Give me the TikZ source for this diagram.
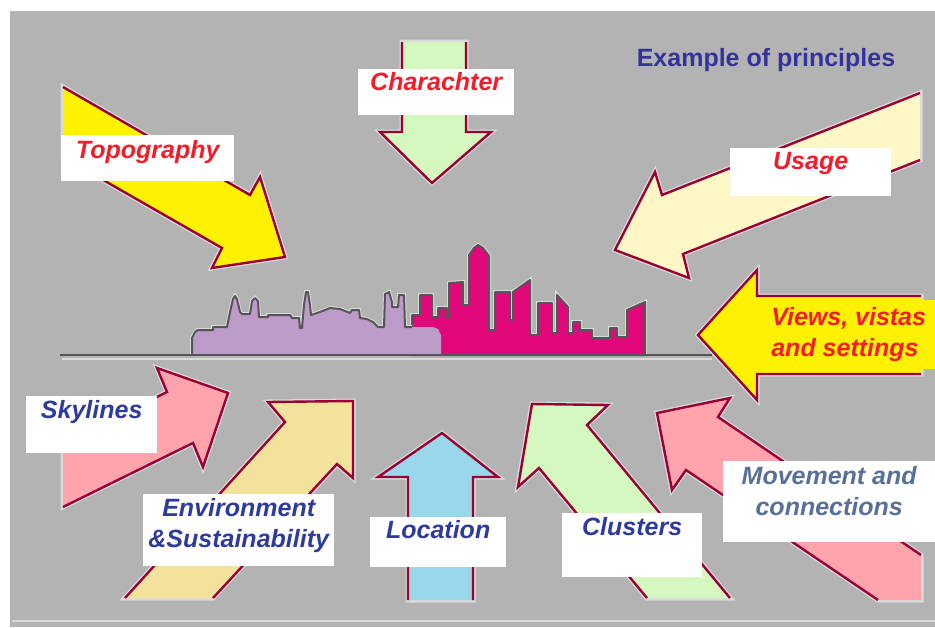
\documentclass[tikz,border=0pt]{standalone}
\usepackage{fontspec}
\setmainfont{Liberation Sans}
\usetikzlibrary{positioning}

\definecolor{bg}{HTML}{B3B3B3}
\definecolor{halocol}{HTML}{DADADA}
\definecolor{rimred}{HTML}{990033}
\definecolor{roofgray}{HTML}{555555}
\definecolor{sunyellow}{HTML}{FFF200}
\definecolor{mint}{HTML}{D3F7BE}
\definecolor{cream}{HTML}{FFF8C6}
\definecolor{rose}{HTML}{FFA3AD}
\definecolor{sand}{HTML}{F3E29C}
\definecolor{sky}{HTML}{9AD7EA}
\definecolor{lilac}{HTML}{BC9BC8}
\definecolor{cerise}{HTML}{E1077B}
\definecolor{tagred}{HTML}{F21D2A}
\definecolor{tagblue}{HTML}{2E3A9C}
\definecolor{tagslate}{HTML}{587097}
\definecolor{titleblue}{HTML}{333399}

\tikzset{
  rim/.style={draw=rimred, line width=2.4pt, line join=miter},
  glow/.style={draw=halocol, fill=halocol, line width=5pt},
  roof/.style={draw=roofgray, line width=2pt, line join=round},
  tagbox/.style={fill=white, inner sep=0pt, anchor=north west},
  tagtext/.style={font=\fontsize{25}{31}\selectfont\bfseries\itshape, inner sep=0pt, align=center},
}

% block arrow: #3 is the outline without the tail, #1 extra tail corners
\newcommand\blockarrow[3][]{%
  \filldraw[glow] #3 #1 -- cycle;
  \fill[#2] #3 #1 -- cycle;
  \draw[rim] #3;}

\begin{document}
\begin{tikzpicture}[x=1pt,y=-1pt]
  \useasboundingbox (0,0) rectangle (935,627);
  \fill[white] (0,0) rectangle (935,627);
  \fill[bg] (10,11) rectangle (935,627);
  \draw[halocol, line width=1.5pt] (12,621) -- (935,621);

  % skyline
  \path[draw=halocol, line width=4pt] (412,355) -- (412,315) -- (420,315) -- (420,295) -- (432,295) -- (432,317) -- (438,317) -- (438,308) -- (447,308) -- (447,318) -- (449,318) -- (449,283) -- (463,282) -- (463,305) -- (469,305) -- (469,255) -- (474,248) -- (478,245) -- (483,248) -- (489,256) -- (489,330) -- (495,330) -- (495,292) -- (510,292) -- (510,320) -- (513,320) -- (513,292) -- (530,280) -- (530,335) -- (538,335) -- (538,303) -- (552,303) -- (552,333) -- (557,333) -- (557,295) -- (568,307) -- (568,333) -- (573,333) -- (573,322) -- (580,322) -- (580,330) -- (592,330) -- (592,338) -- (610,338) -- (610,328) -- (617,328) -- (617,337) -- (627,337) -- (627,310) -- (645,302) -- (645,355);
  \filldraw[fill=cerise, roof] (412,355) -- (412,315) -- (420,315) -- (420,295) -- (432,295) -- (432,317) -- (438,317) -- (438,308) -- (447,308) -- (447,318) -- (449,318) -- (449,283) -- (463,282) -- (463,305) -- (469,305) -- (469,255) -- (474,248) -- (478,245) -- (483,248) -- (489,256) -- (489,330) -- (495,330) -- (495,292) -- (510,292) -- (510,320) -- (513,320) -- (513,292) -- (530,280) -- (530,335) -- (538,335) -- (538,303) -- (552,303) -- (552,333) -- (557,333) -- (557,295) -- (568,307) -- (568,333) -- (573,333) -- (573,322) -- (580,322) -- (580,330) -- (592,330) -- (592,338) -- (610,338) -- (610,328) -- (617,328) -- (617,337) -- (627,337) -- (627,310) -- (645,302) -- (645,355) -- cycle;
  \draw[halocol, line width=4pt] (192,355) -- (192,338) -- (195,332) -- (198,330) -- (213,330) -- (213,327) -- (227,327) -- (230,312) -- (233,299) -- (235,296) -- (237,299) -- (240,312) -- (242,314) -- (250,314) -- (252,301) -- (255,298) -- (258,301) -- (259,317) -- (268,317) -- (268,315) -- (290,315) -- (292,318) -- (299,318) -- (300,328) -- (302,328) -- (304,305) -- (306,292) -- (308,292) -- (310,305) -- (311,315) -- (320,312) -- (330,308) -- (340,309) -- (350,313) -- (352,310) -- (359,310) -- (360,318) -- (367,319) -- (373,322) -- (378,327) -- (384,327) -- (385,294) -- (389,292) -- (392,302) -- (392,307) -- (398,307) -- (399,295) -- (404,295) -- (405,327) -- (412,327);
  \fill[lilac] (192,355) -- (192,338) -- (195,332) -- (198,330) -- (213,330) -- (213,327) -- (227,327) -- (230,312) -- (233,299) -- (235,296) -- (237,299) -- (240,312) -- (242,314) -- (250,314) -- (252,301) -- (255,298) -- (258,301) -- (259,317) -- (268,317) -- (268,315) -- (290,315) -- (292,318) -- (299,318) -- (300,328) -- (302,328) -- (304,305) -- (306,292) -- (308,292) -- (310,305) -- (311,315) -- (320,312) -- (330,308) -- (340,309) -- (350,313) -- (352,310) -- (359,310) -- (360,318) -- (367,319) -- (373,322) -- (378,327) -- (384,327) -- (385,294) -- (389,292) -- (392,302) -- (392,307) -- (398,307) -- (399,295) -- (404,295) -- (405,327) -- (433,327) -- (438,329) -- (441,335) -- (441,355) -- cycle;
  \draw[roof] (192,355) -- (192,338) -- (195,332) -- (198,330) -- (213,330) -- (213,327) -- (227,327) -- (230,312) -- (233,299) -- (235,296) -- (237,299) -- (240,312) -- (242,314) -- (250,314) -- (252,301) -- (255,298) -- (258,301) -- (259,317) -- (268,317) -- (268,315) -- (290,315) -- (292,318) -- (299,318) -- (300,328) -- (302,328) -- (304,305) -- (306,292) -- (308,292) -- (310,305) -- (311,315) -- (320,312) -- (330,308) -- (340,309) -- (350,313) -- (352,310) -- (359,310) -- (360,318) -- (367,319) -- (373,322) -- (378,327) -- (384,327) -- (385,294) -- (389,292) -- (392,302) -- (392,307) -- (398,307) -- (399,295) -- (404,295) -- (405,327) -- (412,327);
  \draw[halocol, line width=1.5pt] (62,359) -- (712,359);
  \draw[roofgray, line width=2.5pt] (60,355) -- (712,355);

  % arrows pointing at the skyline
  \blockarrow{sunyellow}{(63,157) -- (222,248) -- (212,268) -- (285,257) -- (260,177) -- (250,195) -- (63,87)}
  \blockarrow{mint}{(402,42) -- (402,132) -- (380,132) -- (432,183) -- (491,132) -- (466,132) -- (466,42)}
  \blockarrow{cream}{(920,93) -- (662,195) -- (655,172) -- (615,250) -- (689,278) -- (683,254) -- (920,160)}
  \blockarrow{sunyellow}{(921,296) -- (757,296) -- (757,270) -- (698,335) -- (757,400) -- (757,374) -- (921,374)}
  \blockarrow{rose}{(63,443) -- (167,392) -- (157,368) -- (228,393) -- (203,467) -- (193,443) -- (63,507)}
  \blockarrow{sand}{(125,598) -- (285,422) -- (268,402) -- (353,401) -- (353,478) -- (337,464) -- (213,598)}
  \blockarrow{sky}{(408,600) -- (408,477) -- (378,477) -- (442,433) -- (498,477) -- (473,477) -- (473,600)}
  \blockarrow{mint}{(647,598) -- (539,468) -- (518,487) -- (532,404) -- (608,405) -- (587,425) -- (730,598)}
  \blockarrow[-- (921,600)]{rose}{(878,600) -- (686,470) -- (672,490) -- (657,413) -- (730,398) -- (718,417) -- (921,555)}

  % labels
  \node[font=\fontsize{25}{31}\selectfont\bfseries, text=titleblue, inner sep=0pt, anchor=north] (title) at (766,48) {Example of principles};

  \node[tagbox, minimum width=173pt, minimum height=46pt] (topoBox) at (61,135) {};
  \node[tagtext, text=tagred, below=5pt of topoBox.north] (topo) {Topography};
  \node[tagbox, minimum width=156pt, minimum height=46pt] (charBox) at (358,69) {};
  \node[tagtext, text=tagred, below=3pt of charBox.north] (char) {Charachter};
  \node[tagbox, minimum width=161pt, minimum height=48pt] (usageBox) at (730,148) {};
  \node[tagtext, text=tagred, below=4pt of usageBox.north] (usage) {Usage};
  \node[tagtext, text=tagred, fill=sunyellow, anchor=north west, align=left, minimum width=173pt, minimum height=69pt, inner xsep=6pt] (views) at (762,300) {Views, vistas\\and settings};

  \node[tagbox, minimum width=131pt, minimum height=57pt] (skyBox) at (26,396) {};
  \node[tagtext, text=tagblue, below=4pt of skyBox.north] (sky) {Skylines};
  \node[tagbox, minimum width=191pt, minimum height=72pt] (envBox) at (143,494) {};
  \node[tagtext, text=tagblue, below=4pt of envBox.north] (env) {Environment\\\&Sustainability};
  \node[tagbox, minimum width=136pt, minimum height=50pt] (locBox) at (370,517) {};
  \node[tagtext, text=tagblue, below=3pt of locBox.north] (loc) {Location};
  \node[tagbox, minimum width=140pt, minimum height=64pt] (clusBox) at (562,513) {};
  \node[tagtext, text=tagblue, below=4pt of clusBox.north] (clus) {Clusters};
  \node[tagbox, minimum width=212pt, minimum height=81pt] (moveBox) at (723,461) {};
  \node[tagtext, text=tagslate, below=5pt of moveBox.north] (move) {Movement and\\connections};
\end{tikzpicture}
\end{document}
